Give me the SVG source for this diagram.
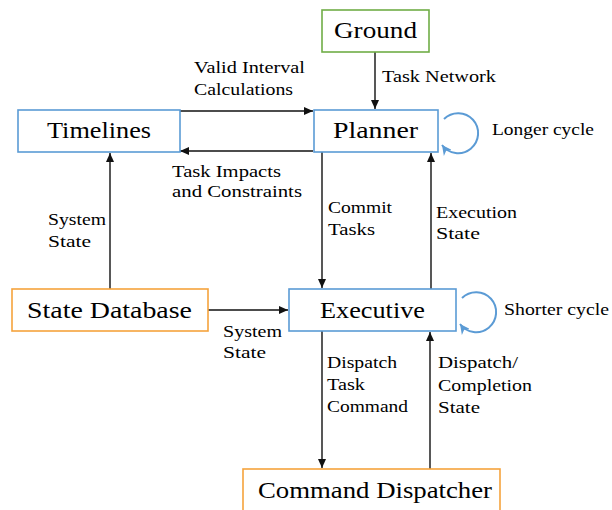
<svg xmlns="http://www.w3.org/2000/svg" width="612" height="510" viewBox="0 0 612 510">
  <style>
    .box { fill: #ffffff; stroke-width: 1.6; }
    .blue { stroke: #5b9bd5; }
    .orange { stroke: #f5a33c; }
    .green { stroke: #70ad47; }
    .edge { fill: none; stroke: #111; stroke-width: 1.4; marker-end: url(#arrow); }
    .loop { fill: none; stroke: #5b9bd5; stroke-width: 2; marker-end: url(#loopArrow); }
  </style>
  <defs>
    <marker id="arrow" markerUnits="userSpaceOnUse" markerWidth="10" markerHeight="8" refX="9" refY="4" orient="auto">
      <path d="M0,0 L9,4 L0,8 Z" fill="#111"/>
    </marker>
    <marker id="loopArrow" markerUnits="userSpaceOnUse" markerWidth="12" markerHeight="10" refX="10" refY="5" orient="auto">
      <path d="M0,0 L10,5 L0,10 L3,5 Z" fill="#5b9bd5"/>
    </marker>
  </defs>

  <rect width="612" height="510" fill="#ffffff"/>

  <g id="connectors">
    <!-- Ground to Planner -->
    <line class="edge" x1="375" y1="52" x2="375" y2="109"/>
    <!-- Timelines to Planner -->
    <line class="edge" x1="180" y1="111" x2="313" y2="111"/>
    <!-- Planner to Timelines -->
    <line class="edge" x1="313" y1="151" x2="180" y2="151"/>
    <!-- State Database to Timelines -->
    <line class="edge" x1="110" y1="289" x2="110" y2="153"/>
    <!-- Planner to Executive -->
    <line class="edge" x1="322" y1="152" x2="322" y2="288"/>
    <!-- Executive to Planner -->
    <line class="edge" x1="431" y1="289" x2="431" y2="153"/>
    <!-- State Database to Executive -->
    <line class="edge" x1="208" y1="310" x2="288" y2="310"/>
    <!-- Executive to Command Dispatcher -->
    <line class="edge" x1="322" y1="331" x2="322" y2="468"/>
    <!-- Command Dispatcher to Executive -->
    <line class="edge" x1="430" y1="469" x2="430" y2="332"/>
    <!-- Self loops -->
    <path class="loop" d="M444,119 A20,20 0 1 1 442,145"/>
    <path class="loop" d="M462,298 A20,20 0 1 1 460,324"/>

    <text font-family="Times New Roman" font-size="17" x="382" y="82" textLength="114" lengthAdjust="spacingAndGlyphs">Task Network</text>
    <text font-family="Times New Roman" font-size="17" x="194" y="73" textLength="111" lengthAdjust="spacingAndGlyphs">Valid Interval</text>
    <text font-family="Times New Roman" font-size="17" x="194" y="95" textLength="99" lengthAdjust="spacingAndGlyphs">Calculations</text>
    <text font-family="Times New Roman" font-size="17" x="172" y="177" textLength="109" lengthAdjust="spacingAndGlyphs">Task Impacts</text>
    <text font-family="Times New Roman" font-size="17" x="172" y="197" textLength="130" lengthAdjust="spacingAndGlyphs">and Constraints</text>
    <text font-family="Times New Roman" font-size="17" x="48" y="225" textLength="58" lengthAdjust="spacingAndGlyphs">System</text>
    <text font-family="Times New Roman" font-size="17" x="48" y="247" textLength="43" lengthAdjust="spacingAndGlyphs">State</text>
    <text font-family="Times New Roman" font-size="17" x="328" y="213" textLength="64" lengthAdjust="spacingAndGlyphs">Commit</text>
    <text font-family="Times New Roman" font-size="17" x="328" y="235" textLength="47" lengthAdjust="spacingAndGlyphs">Tasks</text>
    <text font-family="Times New Roman" font-size="17" x="436" y="218" textLength="81" lengthAdjust="spacingAndGlyphs">Execution</text>
    <text font-family="Times New Roman" font-size="17" x="436" y="239" textLength="44" lengthAdjust="spacingAndGlyphs">State</text>
    <text font-family="Times New Roman" font-size="17" x="223" y="337" textLength="59" lengthAdjust="spacingAndGlyphs">System</text>
    <text font-family="Times New Roman" font-size="17" x="223" y="358" textLength="43" lengthAdjust="spacingAndGlyphs">State</text>
    <text font-family="Times New Roman" font-size="17" x="327" y="368" textLength="70" lengthAdjust="spacingAndGlyphs">Dispatch</text>
    <text font-family="Times New Roman" font-size="17" x="327" y="390" textLength="38" lengthAdjust="spacingAndGlyphs">Task</text>
    <text font-family="Times New Roman" font-size="17" x="327" y="412" textLength="81" lengthAdjust="spacingAndGlyphs">Command</text>
    <text font-family="Times New Roman" font-size="17" x="438" y="368" textLength="80" lengthAdjust="spacingAndGlyphs">Dispatch/</text>
    <text font-family="Times New Roman" font-size="17" x="438" y="391" textLength="94" lengthAdjust="spacingAndGlyphs">Completion</text>
    <text font-family="Times New Roman" font-size="17" x="438" y="413" textLength="42" lengthAdjust="spacingAndGlyphs">State</text>
    <text font-family="Times New Roman" font-size="17" x="492" y="135" textLength="102" lengthAdjust="spacingAndGlyphs">Longer cycle</text>
    <text font-family="Times New Roman" font-size="17" x="504" y="315" textLength="105" lengthAdjust="spacingAndGlyphs">Shorter cycle</text>
  </g>

  <g id="ground">
    <rect class="box green" x="322" y="10" width="107" height="42"/>
    <text font-family="Liberation Serif" font-size="23" text-anchor="middle" x="375.5" y="38" textLength="83" lengthAdjust="spacingAndGlyphs">Ground</text>
  </g>
  <g id="timelines">
    <rect class="box blue" x="18" y="110" width="162" height="42"/>
    <text font-family="Liberation Serif" font-size="23" text-anchor="middle" x="99" y="138" textLength="104" lengthAdjust="spacingAndGlyphs">Timelines</text>
  </g>
  <g id="planner">
    <rect class="box blue" x="314" y="110" width="124" height="42"/>
    <text font-family="Liberation Serif" font-size="23" text-anchor="middle" x="375.5" y="138" textLength="85" lengthAdjust="spacingAndGlyphs">Planner</text>
  </g>
  <g id="state-database">
    <rect class="box orange" x="12" y="289" width="196" height="42"/>
    <text font-family="Liberation Serif" font-size="23" text-anchor="middle" x="109.5" y="318" textLength="165" lengthAdjust="spacingAndGlyphs">State Database</text>
  </g>
  <g id="executive">
    <rect class="box blue" x="289" y="289" width="167" height="42"/>
    <text font-family="Liberation Serif" font-size="23" text-anchor="middle" x="372.5" y="318" textLength="105" lengthAdjust="spacingAndGlyphs">Executive</text>
  </g>
  <g id="command-dispatcher">
    <rect class="box orange" x="243" y="469" width="257" height="50"/>
    <text font-family="Liberation Serif" font-size="23" text-anchor="middle" x="375" y="498" textLength="234" lengthAdjust="spacingAndGlyphs">Command Dispatcher</text>
  </g>
</svg>
